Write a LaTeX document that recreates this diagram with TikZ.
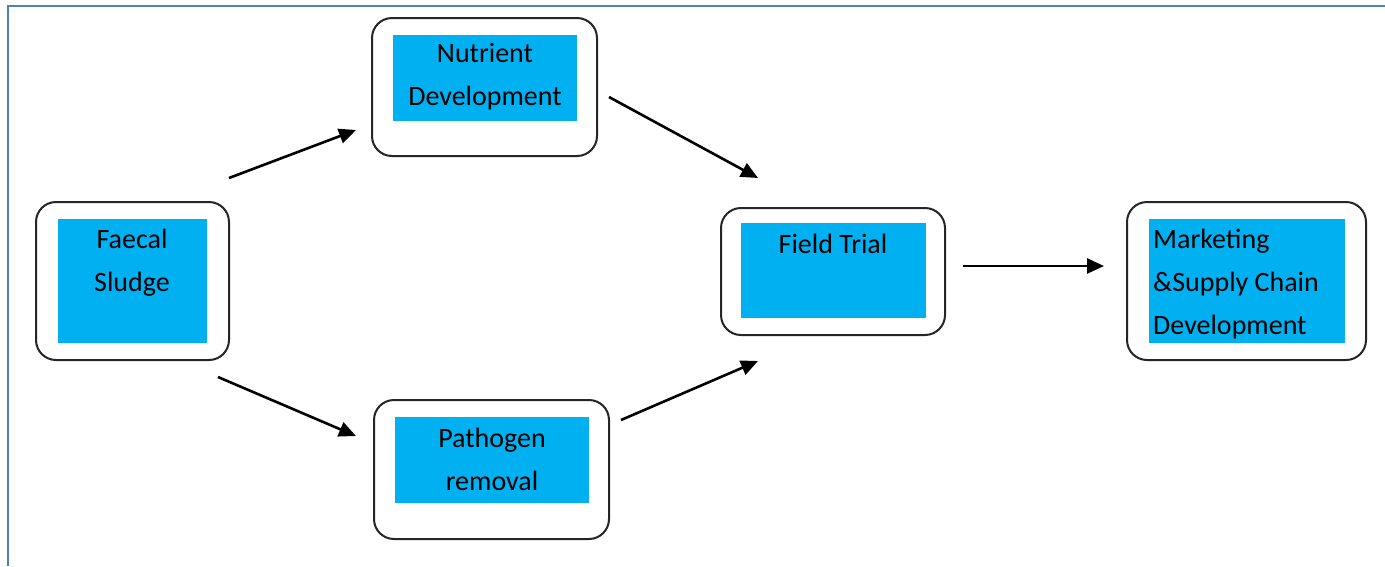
\documentclass[tikz,border=0pt]{standalone}
\usepackage{fontspec}
\setmainfont{Carlito}
\usetikzlibrary{arrows.meta}
\definecolor{frameblue}{RGB}{79,129,189}
\definecolor{boxblue}{RGB}{0,176,240}
\tikzset{
  outerbox/.style={draw=black!85, line width=2pt, rounded corners=20pt, fill=white},
  innerbox/.style={fill=boxblue},
  lbl/.style={font=\fontsize{28}{43}\selectfont, inner sep=0pt, text=black},
  flow/.style={line width=2.6pt, -{Triangle[length=17pt,width=15pt]}}
}
\begin{document}
\begin{tikzpicture}[x=1pt,y=-1pt]
\useasboundingbox (0,0) rectangle (1385,566);
\fill[white] (0,0) rectangle (1385,566);
\draw[frameblue, line width=2.5pt] (8,566) -- (8,6) -- (1385,6);

% outer boxes
\draw[outerbox] (36,202) rectangle (229,360);
\draw[outerbox] (372,18) rectangle (597,156);
\draw[outerbox] (374,400) rectangle (609,539);
\draw[outerbox] (721,208) rectangle (945,335);
\draw[outerbox] (1127,202) rectangle (1366,360);

% named outer nodes for reference
\node[inner sep=0pt, minimum width=193pt, minimum height=158pt] (fs) at (132.5,281) {};
\node[inner sep=0pt, minimum width=225pt, minimum height=138pt] (nd) at (484.5,87) {};
\node[inner sep=0pt, minimum width=235pt, minimum height=139pt] (pr) at (491.5,469.5) {};
\node[inner sep=0pt, minimum width=224pt, minimum height=127pt] (ft) at (833,271.5) {};
\node[inner sep=0pt, minimum width=239pt, minimum height=158pt] (ms) at (1246.5,281) {};

% inner blue boxes
\fill[innerbox] (58,219) rectangle (207,343);
\fill[innerbox] (393,35) rectangle (577,121);
\fill[innerbox] (395,417) rectangle (589,503);
\fill[innerbox] (741,223) rectangle (926,318);
\fill[innerbox] (1149,219) rectangle (1345,343);

% labels
\node[lbl, align=center] (tfs) at (132,263) {Faecal\\Sludge};
\node[lbl, align=center] (tnd) at (485,77) {Nutrient\\Development};
\node[lbl, align=center] (tpr) at (492,459) {Pathogen\\removal};
\node[lbl, align=center] (tft) at (833,244) {Field Trial};
\node[lbl, align=left, anchor=west] (tms) at (1153,284) {Marketing\\\&Supply Chain\\Development};

% arrow end points
\coordinate (a1s) at (229,178); \coordinate (a1e) at (356,130);
\coordinate (a2s) at (609,97);  \coordinate (a2e) at (758,178);
\coordinate (a3s) at (218,377); \coordinate (a3e) at (356,436);
\coordinate (a4s) at (621,420); \coordinate (a4e) at (758,361);
\coordinate (a5s) at (963,266); \coordinate (a5e) at (1104,266);

\draw[flow] (a1s) -- (a1e);
\draw[flow] (a2s) -- (a2e);
\draw[flow] (a3s) -- (a3e);
\draw[flow] (a4s) -- (a4e);
\draw[flow] (a5s) -- (a5e);
\end{tikzpicture}
\end{document}
